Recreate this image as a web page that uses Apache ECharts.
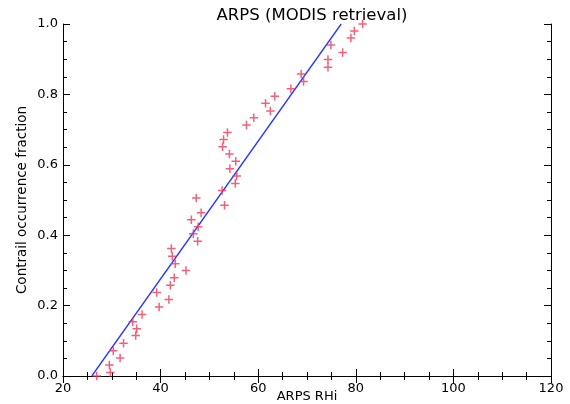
<!DOCTYPE html>
<html>
<head>
<meta charset="utf-8">
<script src="https://cdn.jsdelivr.net/npm/echarts@6/dist/echarts.min.js"></script>
<style>html,body{margin:0;padding:0;background:#fff}#c{width:570px;height:404px}</style>
</head>
<body>
<div id="c"></div>
<script>
// ARPS RHi values (x) of each observation
var rhiValues = [26.9, 29.7, 29.5, 31.7, 30.3, 32.4, 34.9, 35.1, 34.3, 36.2,
  39.7, 41.7, 39.2, 42.0, 42.8, 45.2, 43.0, 42.4, 42.2, 47.6,
  46.7, 47.7, 46.3, 48.3, 53.1, 47.3, 52.6, 55.3, 55.6, 54.2,
  55.4, 54.1, 52.7, 52.9, 53.7, 57.6, 59.1, 62.5, 61.5, 63.4,
  66.7, 69.3, 68.8, 74.3, 74.3, 77.3, 74.9, 79.0, 79.7, 81.4];
// contrail occurrence fraction (y)
var fractionValues = [0.000, 0.010, 0.031, 0.051, 0.072, 0.093, 0.115, 0.134, 0.154, 0.175,
  0.196, 0.217, 0.237, 0.258, 0.279, 0.300, 0.319, 0.340, 0.362, 0.383,
  0.404, 0.424, 0.444, 0.464, 0.485, 0.506, 0.527, 0.547, 0.568, 0.589,
  0.610, 0.631, 0.651, 0.672, 0.692, 0.713, 0.734, 0.753, 0.775, 0.795,
  0.816, 0.837, 0.858, 0.877, 0.899, 0.919, 0.940, 0.960, 0.980, 1.000];
// fitted line endpoints
var fitX = [25.9, 77.0];
var fitY = [0.0, 1.0];

var scatterData = rhiValues.map(function (x, i) { return [x, fractionValues[i]]; });
var fitData = fitX.map(function (x, i) { return [x, fitY[i]]; });

var font = 'DejaVu Sans';
var tickStyle = { show: true, inside: true, length: 7, lineStyle: { color: '#000', width: 1 } };
var minorStyle = { show: true, splitNumber: 4, length: 4, lineStyle: { color: '#000', width: 1 } };
var lineStyle = { show: true, lineStyle: { color: '#000', width: 1 } };

var chart = echarts.init(document.getElementById('c'), null, { renderer: 'canvas' });
chart.setOption({
  animation: false,
  backgroundColor: '#fff',
  title: {
    text: 'ARPS (MODIS retrieval)',
    left: 307, top: 2, textAlign: 'center',
    textStyle: { fontFamily: font, fontSize: 16.5, fontWeight: 'normal', color: '#000' }
  },
  grid: { left: 63, right: 19, top: 24, bottom: 28, outerBoundsMode: 'none', containLabel: false },
  xAxis: [{
    type: 'value', min: 20, max: 120, interval: 20, position: 'bottom',
    name: 'ARPS RHi', nameLocation: 'middle', nameGap: 21, nameMoveOverlap: false,
    nameTextStyle: { fontFamily: font, fontSize: 13, color: '#000', verticalAlign: 'middle' },
    axisLine: lineStyle, axisTick: tickStyle, minorTick: minorStyle,
    splitLine: { show: false },
    axisLabel: { fontFamily: font, fontSize: 13, color: '#000', margin: 6 }
  }, {
    type: 'value', min: 20, max: 120, interval: 20, position: 'top',
    axisLine: lineStyle, axisTick: tickStyle, minorTick: minorStyle,
    splitLine: { show: false }, axisLabel: { show: false }
  }],
  yAxis: [{
    type: 'value', min: 0, max: 1, interval: 0.2, position: 'left',
    name: 'Contrail occurrence fraction', nameLocation: 'middle', nameGap: 34, nameMoveOverlap: false,
    nameTextStyle: { fontFamily: font, fontSize: 13.5, color: '#000' },
    axisLine: lineStyle, axisTick: tickStyle, minorTick: minorStyle,
    splitLine: { show: false },
    axisLabel: { fontFamily: font, fontSize: 13, color: '#000', margin: 5,
      formatter: function (v) { return v.toFixed(1); } }
  }, {
    type: 'value', min: 0, max: 1, interval: 0.2, position: 'right',
    axisLine: lineStyle, axisTick: tickStyle, minorTick: minorStyle,
    splitLine: { show: false }, axisLabel: { show: false }
  }],
  series: [{
    type: 'line', data: fitData, xAxisIndex: 0, yAxisIndex: 0,
    symbol: 'none', lineStyle: { color: '#2838ff', width: 1.3 }, z: 2
  }, {
    type: 'scatter', data: scatterData, xAxisIndex: 0, yAxisIndex: 0, clip: false,
    symbol: 'path://M0,5L10,5M5,0L5,10', symbolSize: 8.5,
    itemStyle: { color: 'rgba(0,0,0,0)', borderColor: '#f03a58', borderWidth: 1.5 },
    z: 3
  }]
});
</script>
</body>
</html>
